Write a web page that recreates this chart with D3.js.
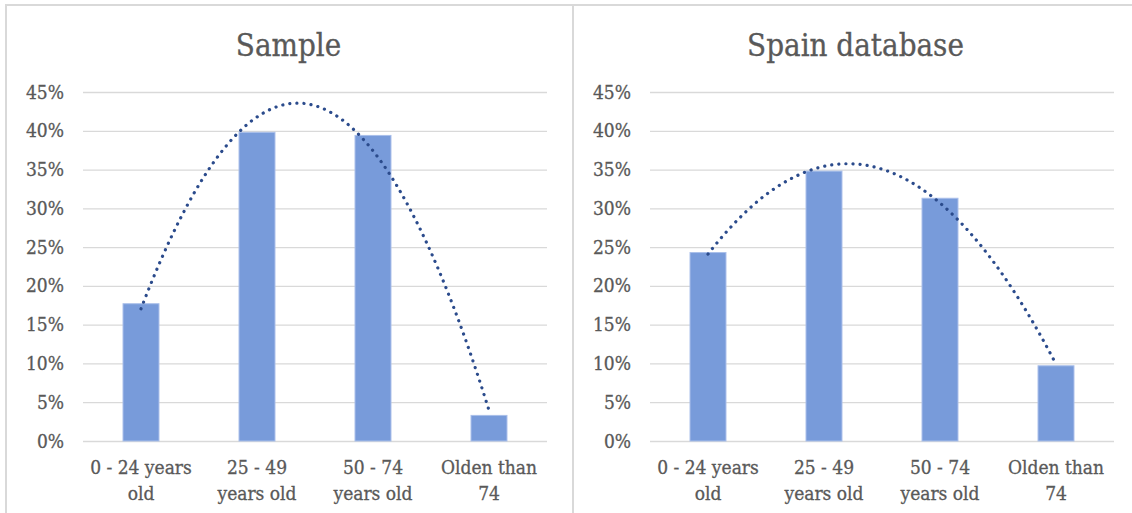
<!DOCTYPE html>
<html>
<head>
<meta charset="utf-8">
<script src="https://cdn.jsdelivr.net/npm/d3@7"></script>
<style>
  html, body { margin: 0; padding: 0; background: #fff; }
  svg { display: block; }
  text { font-family: 'DejaVu Serif Condensed', 'DejaVu Serif', serif; fill: #595959; stroke: #595959; stroke-width: 0.3; }
</style>
</head>
<body>
<svg id="chart" width="1132" height="513"></svg>
<script>
// Age groups shown on the x axis (each label split over two lines)
const categoryLines = [
  ["0 - 24 years", "old"],
  ["25 - 49", "years old"],
  ["50 - 74", "years old"],
  ["Olden than", "74"]
];
const categories = categoryLines.map(l => l.join(" "));

// Share of people in each age group
const sampleValues = [0.177, 0.398, 0.394, 0.033];
const spainValues  = [0.243, 0.348, 0.313, 0.097];

// Percentage ticks on the y axis
const yTicks = [0, 0.05, 0.10, 0.15, 0.20, 0.25, 0.30, 0.35, 0.40, 0.45];

const panelTitles = ["Sample", "Spain database"];

const svg = d3.select("#chart");

const panelW = 567;
const plot = { left: 77, width: 464, top: 92, height: 349 };
const fontStack = "'DejaVu Serif Condensed', 'DejaVu Serif', serif";

// Least-squares fit of a second order polynomial through (1..n, values)
function quadFit(values) {
  const xs = values.map((_, i) => i + 1);
  const s = [0, 0, 0, 0, 0], t = [0, 0, 0];
  xs.forEach((x, i) => {
    for (let k = 0; k <= 4; k++) s[k] += Math.pow(x, k);
    for (let k = 0; k <= 2; k++) t[k] += Math.pow(x, k) * values[i];
  });
  // Solve the 3x3 normal equations
  const M = [
    [s[0], s[1], s[2], t[0]],
    [s[1], s[2], s[3], t[1]],
    [s[2], s[3], s[4], t[2]]
  ];
  for (let c = 0; c < 3; c++) {
    let p = c;
    for (let r = c + 1; r < 3; r++) if (Math.abs(M[r][c]) > Math.abs(M[p][c])) p = r;
    [M[c], M[p]] = [M[p], M[c]];
    for (let r = 0; r < 3; r++) {
      if (r === c) continue;
      const f = M[r][c] / M[c][c];
      for (let k = c; k < 4; k++) M[r][k] -= f * M[c][k];
    }
  }
  const coef = [M[0][3] / M[0][0], M[1][3] / M[1][1], M[2][3] / M[2][2]];
  return x => coef[0] + coef[1] * x + coef[2] * x * x;
}

function drawPanel(x0, title, values) {
  const g = svg.append("g").attr("transform", `translate(${x0},0)`);

  // Chart frame
  g.append("rect")
    .attr("x", 0).attr("y", 5)
    .attr("width", panelW).attr("height", 530)
    .attr("fill", "none")
    .attr("stroke", "#d9d9d9")
    .attr("stroke-width", 2);

  g.append("text")
    .attr("x", panelW / 2 - 1).attr("y", 56)
    .attr("text-anchor", "middle")
    .attr("font-size", 31)
    .text(title);

  const x = d3.scaleBand()
    .domain(categories)
    .range([plot.left, plot.left + plot.width])
    .paddingInner(0.69).paddingOuter(0.345);

  const y = d3.scaleLinear()
    .domain([0, 0.45])
    .range([plot.top + plot.height, plot.top]);

  // Horizontal gridlines and percentage labels
  const yAxis = d3.axisLeft(y)
    .tickValues(yTicks)
    .tickFormat(d3.format(".0%"))
    .tickSize(-plot.width)
    .tickPadding(19);

  const ya = g.append("g")
    .attr("transform", `translate(${plot.left},0)`)
    .call(yAxis);
  ya.select(".domain").remove();
  ya.selectAll(".tick line").attr("stroke", "#d9d9d9").attr("stroke-width", 1.3);
  ya.selectAll(".tick text")
    .attr("font-size", 19)
    .attr("fill", "#595959")
    .style("font-family", fontStack);

  // Bars
  g.append("g").selectAll("rect")
    .data(values)
    .join("rect")
    .attr("x", (d, i) => x(categories[i]))
    .attr("y", d => y(d))
    .attr("width", x.bandwidth())
    .attr("height", d => y(0) - y(d))
    .attr("fill", "#789bda")
    .attr("stroke", "#a9bfea")
    .attr("stroke-width", 1);

  // Category labels
  const centre = i => x(categories[i]) + x.bandwidth() / 2;
  const lab = g.append("g").selectAll("text")
    .data(categoryLines)
    .join("text")
    .attr("text-anchor", "middle")
    .attr("font-size", 19);
  lab.selectAll("tspan")
    .data((d, i) => d.map(s => ({ s, i })))
    .join("tspan")
    .attr("x", d => centre(d.i))
    .attr("y", (d, j) => 474 + j * 26)
    .text(d => d.s);

  // Polynomial (order 2) trendline through the bar values
  const fit = quadFit(values);
  const idx = d3.scaleLinear().domain([1, values.length]).range([centre(0), centre(values.length - 1)]);
  const pts = d3.range(1, values.length + 0.0001, 0.02).map(t => [idx(t), y(fit(t))]);
  g.append("path")
    .attr("d", d3.line()(pts))
    .attr("fill", "none")
    .attr("stroke", "#2b4b8c")
    .attr("stroke-width", 3.2)
    .attr("stroke-linecap", "round")
    .attr("stroke-dasharray", "0.1 7");
}

drawPanel(6, panelTitles[0], sampleValues);
drawPanel(573, panelTitles[1], spainValues);
</script>
</body>
</html>
